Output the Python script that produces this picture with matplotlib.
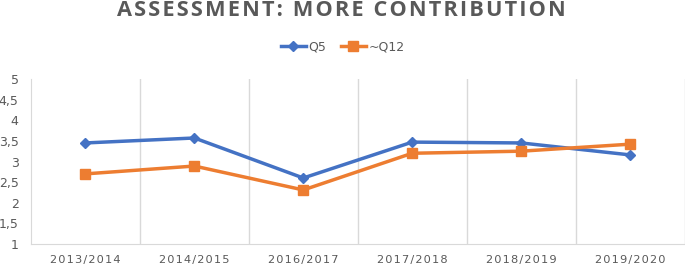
import matplotlib
matplotlib.use("Agg")
import matplotlib.pyplot as plt
from matplotlib.ticker import FuncFormatter

categories = ["2013/2014", "2014/2015", "2016/2017", "2017/2018", "2018/2019", "2019/2020"]
q5 = [3.45, 3.57, 2.60, 3.47, 3.45, 3.16]
q12 = [2.70, 2.89, 2.31, 3.20, 3.25, 3.42]
yticks = [1, 1.5, 2, 2.5, 3, 3.5, 4, 4.5, 5]

HS = "\u200a"

fig = plt.figure(figsize=(6.85, 2.67), dpi=100)
ax = fig.add_axes([31/685, 23/267, (684.5-31)/685, (244-79)/267])

x = list(range(len(categories)))
ax.plot(x, q5, color="#4472C4", lw=2.5, marker="D", ms=5.5, label="Q5")
ax.plot(x, q12, color="#ED7D31", lw=2.5, marker="s", ms=7, label="~Q12")

ax.set_xlim(-0.5, len(categories) - 0.5)
ax.set_ylim(1, 5)
ax.set_yticks(yticks)
ax.yaxis.set_major_formatter(FuncFormatter(lambda v, p: (f"{v:g}").replace(".", ",")))
ax.set_xticks(x)
ax.set_xticklabels([HS.join(c) for c in categories], fontsize=8.2, color="#595959",
                   family=["DejaVu Sans"])
for b in range(1, len(categories) + 1):
    ax.axvline(b - 0.5, color="#D9D9D9", lw=1, zorder=0)

for s in ["top", "right"]:
    ax.spines[s].set_visible(False)
ax.spines["bottom"].set_color("#D9D9D9")
ax.spines["left"].set_color("#D9D9D9")
ax.tick_params(axis="both", length=0, colors="#595959")
ax.tick_params(axis="x", pad=8)
ax.tick_params(axis="y", pad=9, labelsize=9)

title = "ASSESSMENT: MORE CONTRIBUTION"
fig.text(0.5 - 1.5/685, 1 - 11/267, HS.join(title), ha="center", va="center",
         fontsize=15.7, fontweight="bold", color="#595959", family=["Open Sans", "DejaVu Sans"])
fig.legend(loc="center", bbox_to_anchor=(0.5, 1 - 47/267), ncol=2, frameon=False,
           fontsize=9, labelcolor="#595959", handlelength=2.0, columnspacing=1.2,
           handletextpad=0.2)

fig.savefig("out.png", dpi=100)
